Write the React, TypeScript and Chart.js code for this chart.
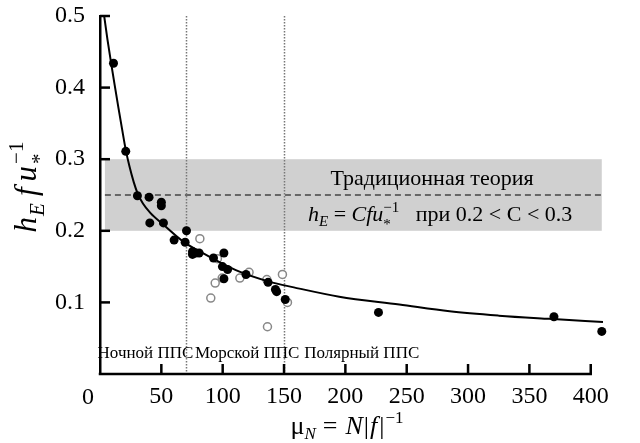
import React, { useEffect, useRef } from 'react';
import { Chart, registerables } from 'chart.js';

Chart.register(...registerables);

// ---- data ----
const xTickValues = [0, 50, 100, 150, 200, 250, 300, 350, 400];
const yTickValues = [0.1, 0.2, 0.3, 0.4, 0.5];
const xAxisMax = 400;

const curveX = [3.4, 6, 9, 12, 15, 18, 21, 24, 27.5, 30.5, 35, 41, 52, 67, 83.5, 110.7, 137.8, 158, 195, 244, 285, 325, 366, 410];
const curveY = [0.5, 0.468, 0.435, 0.403, 0.372, 0.342, 0.313, 0.29, 0.268, 0.253, 0.238, 0.225, 0.208, 0.186, 0.169, 0.145, 0.129, 0.121, 0.108, 0.097, 0.0875, 0.0815, 0.077, 0.0726];

const filledX = [11, 21, 30.5, 40, 50, 50, 40.6, 51.7, 70.5, 60.4, 69.4, 75.4, 78, 80.8, 75.4, 101, 92.5, 99.8, 104, 101, 119, 137, 143, 144, 151, 227, 370, 409];
const filledY = [0.434, 0.311, 0.249, 0.247, 0.24, 0.235, 0.211, 0.211, 0.2, 0.187, 0.184, 0.171, 0.169, 0.169, 0.167, 0.169, 0.162, 0.15, 0.146, 0.133, 0.139, 0.128, 0.118, 0.115, 0.104, 0.086, 0.08, 0.0595];

const openX = [81.4, 95.7, 93.9, 99.6, 90.3, 114, 121.5, 136, 136.5, 148.7, 152.8];
const openY = [0.189, 0.161, 0.127, 0.134, 0.106, 0.134, 0.142, 0.132, 0.066, 0.139, 0.1];

const bandX = [4, 409];
const bandY = [0.2, 0.3];
const theoryY = 0.25;
const regionBounds = [70, 150];
const regionLabels = ['Ночной ППС', 'Морской ППС', 'Полярный ППС'];
const regionLabelX = [-2, 77.5, 166.4];
const theoryTitle = 'Традиционная теория';

const SERIF = "'Liberation Serif', 'DejaVu Serif', serif";

type Run = { t: string; size: number; italic?: boolean; dy?: number; noAdvance?: boolean; gap?: number };

function runsWidth(ctx: CanvasRenderingContext2D, runs: Run[]) {
  let w = 0;
  for (const r of runs) {
    ctx.font = `${r.italic ? 'italic ' : ''}${r.size}px ${SERIF}`;
    if (!r.noAdvance) w += ctx.measureText(r.t).width + (r.gap || 0);
  }
  return w;
}

function drawRuns(ctx: CanvasRenderingContext2D, x: number, y: number, runs: Run[]) {
  let cx = x;
  for (const r of runs) {
    ctx.font = `${r.italic ? 'italic ' : ''}${r.size}px ${SERIF}`;
    ctx.fillText(r.t, cx, y + (r.dy || 0));
    if (!r.noAdvance) cx += ctx.measureText(r.t).width + (r.gap || 0);
  }
}

const decorPlugin = {
  id: 'decor',
  beforeDatasetsDraw(chart: any) {
    const { ctx, scales } = chart;
    const xs = scales.x, ys = scales.y;
    ctx.save();
    // grey band
    const x0 = xs.getPixelForValue(bandX[0]);
    const x1 = xs.getPixelForValue(bandX[1]);
    const yTop = ys.getPixelForValue(bandY[1]);
    const yBot = ys.getPixelForValue(bandY[0]);
    ctx.fillStyle = '#d0d0d0';
    ctx.fillRect(x0, yTop, x1 - x0, yBot - yTop);
    // dashed line
    const yd = ys.getPixelForValue(theoryY);
    ctx.strokeStyle = '#444';
    ctx.lineWidth = 1.6;
    ctx.setLineDash([6, 4]);
    ctx.beginPath();
    ctx.moveTo(x0, yd);
    ctx.lineTo(x1, yd);
    ctx.stroke();
    // dotted region boundaries
    ctx.strokeStyle = '#777';
    ctx.lineWidth = 1.5;
    ctx.setLineDash([1.5, 1.5]);
    for (const b of regionBounds) {
      const px = Math.round(xs.getPixelForValue(b)) + 0.5;
      ctx.beginPath();
      ctx.moveTo(px, ys.getPixelForValue(0.5));
      ctx.lineTo(px, ys.getPixelForValue(0));
      ctx.stroke();
    }
    ctx.setLineDash([]);
    // region labels
    ctx.fillStyle = '#000';
    ctx.font = `17px ${SERIF}`;
    ctx.textBaseline = 'alphabetic';
    ctx.textAlign = 'left';
    const ly = ys.getPixelForValue(0) - 16;
    regionLabels.forEach((l, i) => {
      ctx.fillText(l, xs.getPixelForValue(regionLabelX[i]), ly);
    });
    ctx.restore();
  },
  afterDatasetsDraw(chart: any) {
    const { ctx, scales } = chart;
    const xs = scales.x, ys = scales.y;
    ctx.save();
    ctx.fillStyle = '#000';
    ctx.textBaseline = 'alphabetic';
    ctx.textAlign = 'left';
    // theory title
    ctx.font = `22px ${SERIF}`;
    const tw = ctx.measureText(theoryTitle).width;
    ctx.fillText(theoryTitle, 432 - tw / 2, 185);
    // formula
    const fr: Run[] = [
      { t: 'h', size: 22, italic: true },
      { t: 'E', size: 15, italic: true, dy: 5 },
      { t: ' = ', size: 22 },
      { t: 'Cfu', size: 22, italic: true },
      { t: '*', size: 15, dy: 8, noAdvance: true },
      { t: '−1', size: 15, dy: -9 },
      { t: '   при 0.2 < C < 0.3', size: 22 },
    ];
    drawRuns(ctx, 308, 221, fr);

    // axis lines (bottom axis ends at 400)
    ctx.strokeStyle = '#000';
    ctx.lineWidth = 2.5;
    const left = chart.chartArea.left, bottom = chart.chartArea.bottom;
    const xEnd = xs.getPixelForValue(xAxisMax);
    ctx.beginPath();
    ctx.moveTo(left - 1.25, bottom);
    ctx.lineTo(xEnd + 1.25, bottom);
    ctx.stroke();
    // inward ticks
    for (const v of yTickValues) {
      const py = ys.getPixelForValue(v);
      ctx.beginPath();
      ctx.moveTo(left, py);
      ctx.lineTo(left + 10, py);
      ctx.stroke();
    }
    for (const v of xTickValues) {
      if (v === 0) continue;
      const px = xs.getPixelForValue(v);
      ctx.beginPath();
      ctx.moveTo(px, bottom);
      ctx.lineTo(px, bottom - 10);
      ctx.stroke();
    }
    // zero label (offset left as in reference)
    ctx.font = `24px ${SERIF}`;
    ctx.textAlign = 'center';
    ctx.textBaseline = 'middle';
    ctx.fillText('0', 88, 398);
    ctx.textBaseline = 'alphabetic';

    // x title
    ctx.textAlign = 'left';
    const xr: Run[] = [
      { t: 'μ', size: 26 },
      { t: 'N', size: 17, italic: true, dy: 5, gap: 7 },
      { t: '=', size: 26, gap: 8 },
      { t: 'N', size: 26, italic: true, gap: 1 },
      { t: '|', size: 26, gap: 1 },
      { t: 'f', size: 26, italic: true, gap: 2 },
      { t: '|', size: 26, gap: 1 },
      { t: '−1', size: 17, dy: -11 },
    ];
    const xw = runsWidth(ctx, xr);
    drawRuns(ctx, 347 - xw / 2, 434, xr);

    // y title (rotated)
    const yr: Run[] = [
      { t: 'h', size: 31, italic: true, gap: 1 },
      { t: 'E', size: 21, italic: true, dy: 8, gap: 7 },
      { t: 'f', size: 31, italic: true, gap: 6 },
      { t: 'u', size: 31, italic: true, gap: 2 },
      { t: '*', size: 21, dy: 10, noAdvance: true },
      { t: '−1', size: 21, dy: -13 },
    ];
    const yw = runsWidth(ctx, yr);
    ctx.translate(36, 187);
    ctx.rotate(-Math.PI / 2);
    drawRuns(ctx, -yw / 2, 0, yr);
    ctx.restore();
  },
};

export default function App() {
  const ref = useRef<HTMLCanvasElement>(null);
  useEffect(() => {
    if (!ref.current) return;
    const chart = new Chart(ref.current, {
      type: 'scatter',
      data: {
        datasets: [
          {
            type: 'scatter',
            data: openX.map((x, i) => ({ x, y: openY[i] })),
            pointRadius: 4,
            pointBackgroundColor: '#fff',
            pointBorderColor: '#888',
            pointBorderWidth: 1.5,
            clip: false as any,
            order: 3,
          },
          {
            type: 'line',
            data: curveX.map((x, i) => ({ x, y: curveY[i] })),
            borderColor: '#000',
            borderWidth: 2,
            pointRadius: 0,
            cubicInterpolationMode: 'monotone',
            fill: false,
            clip: false as any,
            order: 2,
          } as any,
          {
            type: 'scatter',
            data: filledX.map((x, i) => ({ x, y: filledY[i] })),
            pointRadius: 4.5,
            pointBackgroundColor: '#000',
            pointBorderColor: '#000',
            pointBorderWidth: 0,
            clip: false as any,
            order: 1,
          },
        ],
      },
      options: {
        animation: false,
        responsive: false,
        devicePixelRatio: 1,
        layout: { padding: { top: 16, right: 37, left: 0, bottom: 0 } },
        plugins: { legend: { display: false }, tooltip: { enabled: false } },
        scales: {
          x: {
            type: 'linear',
            min: 0,
            max: 410,
            afterFit: (s: any) => { s.height = 69; },
            afterBuildTicks: (s: any) => { s.ticks = xTickValues.map((v) => ({ value: v })); },
            ticks: {
              color: '#000',
              font: { family: SERIF, size: 24 },
              padding: 8,
              maxRotation: 0,
              autoSkip: false,
              callback: (v: any) => (v === 0 ? '' : String(v)),
            },
            grid: { display: false, drawTicks: false },
            border: { display: false },
          },
          y: {
            type: 'linear',
            min: 0,
            max: 0.5,
            afterFit: (s: any) => { s.width = 100; s.paddingTop = 0; s.paddingBottom = 0; },
            afterBuildTicks: (s: any) => { s.ticks = yTickValues.map((v) => ({ value: v })); },
            ticks: {
              color: '#000',
              font: { family: SERIF, size: 24 },
              padding: 15,
              callback: (v: any) => Number(v).toFixed(1),
            },
            grid: { display: false, drawTicks: false },
            border: { display: true, color: '#000', width: 2.5 },
          },
        },
      },
      plugins: [decorPlugin],
    });
    return () => chart.destroy();
  }, []);
  return (
    <div style={{ position: 'fixed', left: 0, top: 0, width: 640, height: 443, background: '#fff' }}>
      <canvas ref={ref} width={640} height={443} style={{ width: 640, height: 443 }} />
    </div>
  );
}
